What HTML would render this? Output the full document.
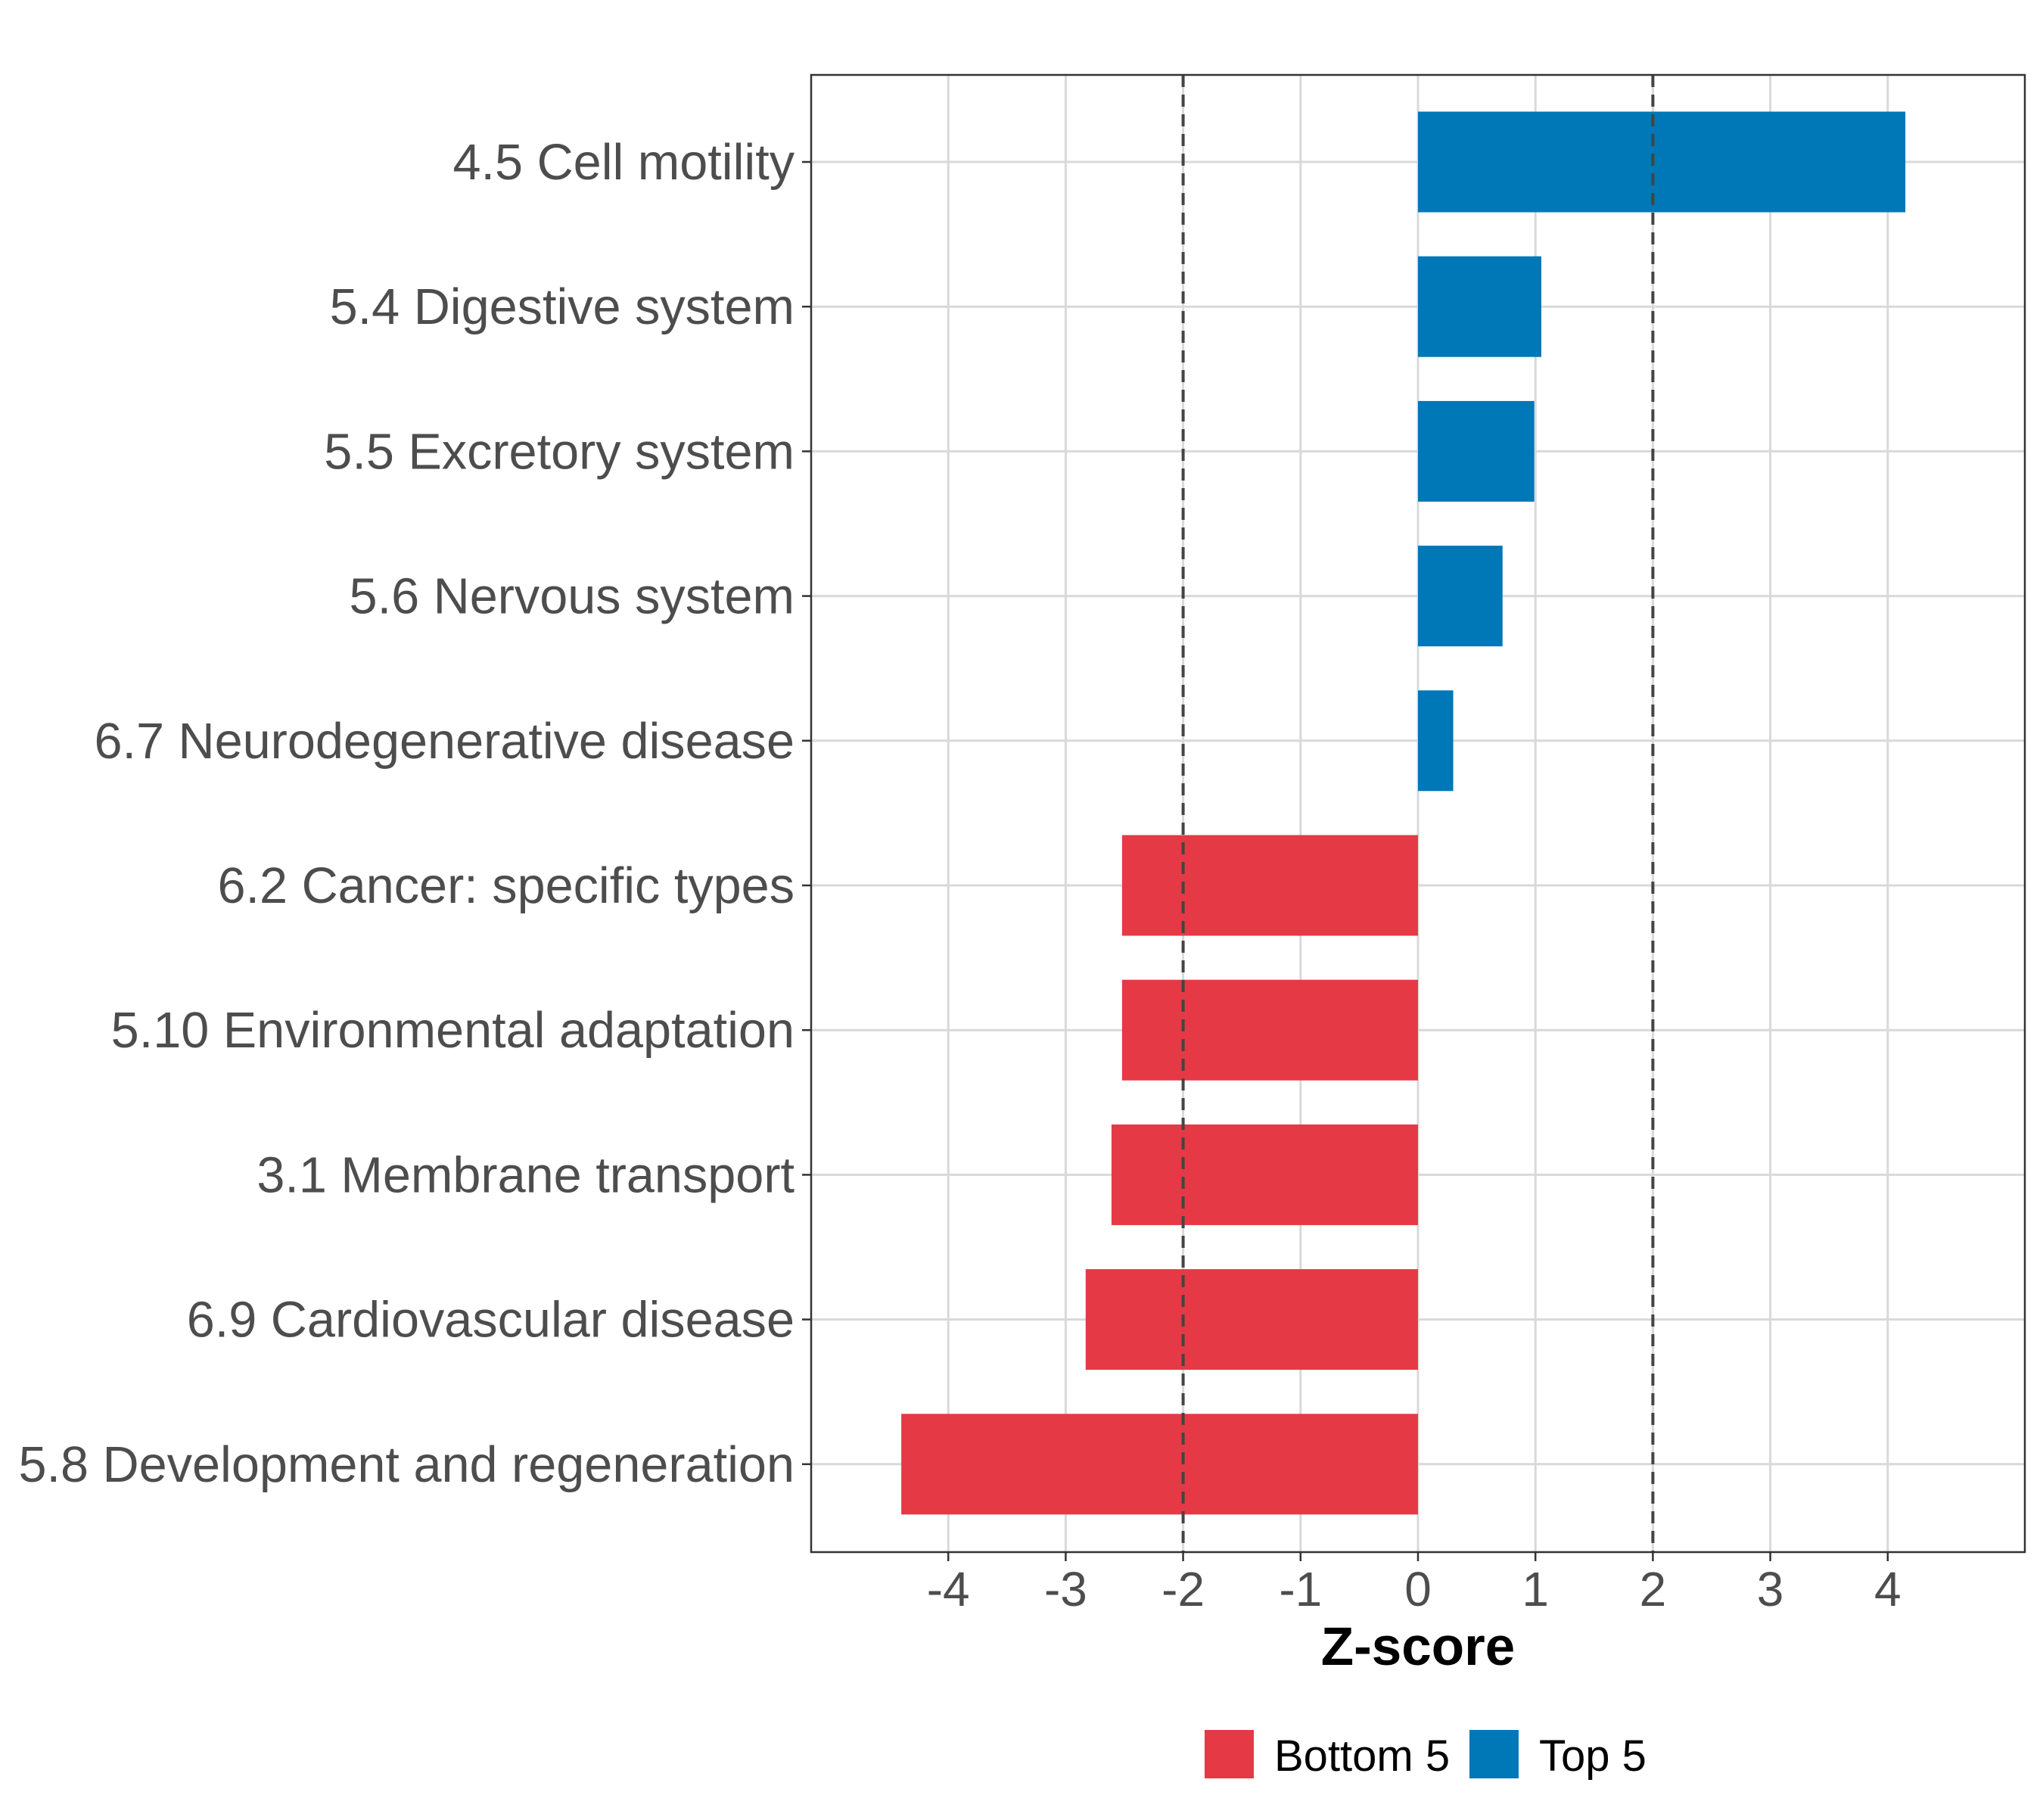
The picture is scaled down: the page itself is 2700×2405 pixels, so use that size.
<!DOCTYPE html>
<html><head><meta charset="utf-8"><style>
html,body{margin:0;padding:0;background:#fff;}
svg text{font-family:"Liberation Sans",sans-serif;}
</style></head><body>
<svg id="chart" width="2700" height="2400" xmlns="http://www.w3.org/2000/svg"></svg>
<script>
const categories=["4.5 Cell motility","5.4 Digestive system","5.5 Excretory system","5.6 Nervous system","6.7 Neurodegenerative disease","6.2 Cancer: specific types","5.10 Environmental adaptation","3.1 Membrane transport","6.9 Cardiovascular disease","5.8 Development and regeneration"];
const zscores=[4.15,1.05,0.99,0.72,0.30,-2.52,-2.52,-2.61,-2.83,-4.40];
const groups=["Top 5","Top 5","Top 5","Top 5","Top 5","Bottom 5","Bottom 5","Bottom 5","Bottom 5","Bottom 5"];
const xTicks=[-4,-3,-2,-1,0,1,2,3,4];
const thresholds=[-2,2];
const legendItems=["Bottom 5","Top 5"];

const svg=document.getElementById('chart');
const NS='http://www.w3.org/2000/svg';
const L=1072,R=2676,T=99,B=2051;
const x=v=>1874+v*155.2;
const y=i=>214+i*191.2;
const colors={"Top 5":"#0077b6","Bottom 5":"#e63946"};
function mk(tag,attrs,parent){const e=document.createElementNS(NS,tag);for(const k in attrs)e.setAttribute(k,attrs[k]);(parent||svg).appendChild(e);return e;}

xTicks.forEach(t=>{const g=mk('line',{x1:x(t),x2:x(t),y1:T,y2:B,stroke:'#d9d9d9','stroke-width':3});

});
categories.forEach((c,i)=>{const g=mk('line',{x1:L,x2:R,y1:y(i),y2:y(i),stroke:'#d9d9d9','stroke-width':3});

});

const bh=133;
categories.forEach((c,i)=>{const v=zscores[i];
const r=mk('rect',{x:Math.min(x(0),x(v)),y:y(i)-bh/2,width:Math.abs(x(v)-x(0)),height:bh,fill:colors[groups[i]]});

});

thresholds.forEach(t=>{const l=mk('line',{x1:x(t),x2:x(t),y1:T,y2:B,stroke:'#444','stroke-width':4,'stroke-dasharray':'16,10'});

});

const pb=mk('rect',{x:L,y:T,width:R-L,height:B-T,fill:'none',stroke:'#333','stroke-width':2.5});



categories.forEach((c,i)=>{mk('line',{x1:L-12,x2:L,y1:y(i),y2:y(i),stroke:'#333','stroke-width':2.5});
const t=mk('text',{x:1050,y:y(i)+23,'text-anchor':'end','font-size':66.6,fill:'#4d4d4d'});t.textContent=c;

});

xTicks.forEach(v=>{mk('line',{x1:x(v),x2:x(v),y1:B,y2:B+12,stroke:'#333','stroke-width':2.5});
const t=mk('text',{x:x(v),y:2122,'text-anchor':'middle','font-size':64,fill:'#4d4d4d'});t.textContent=String(v);

});

const xt=mk('text',{x:x(0),y:2200,'text-anchor':'middle','font-size':71,'font-weight':'bold',fill:'#000'});xt.textContent='Z-score';



const lx=[1592,1942];
legendItems.forEach((g,k)=>{const r=mk('rect',{x:lx[k],y:2286,width:65,height:64,fill:colors[g]});


const t=mk('text',{x:lx[k]+92,y:2340,'font-size':58,fill:'#000'});t.textContent=g;

});
</script>
</body></html>
